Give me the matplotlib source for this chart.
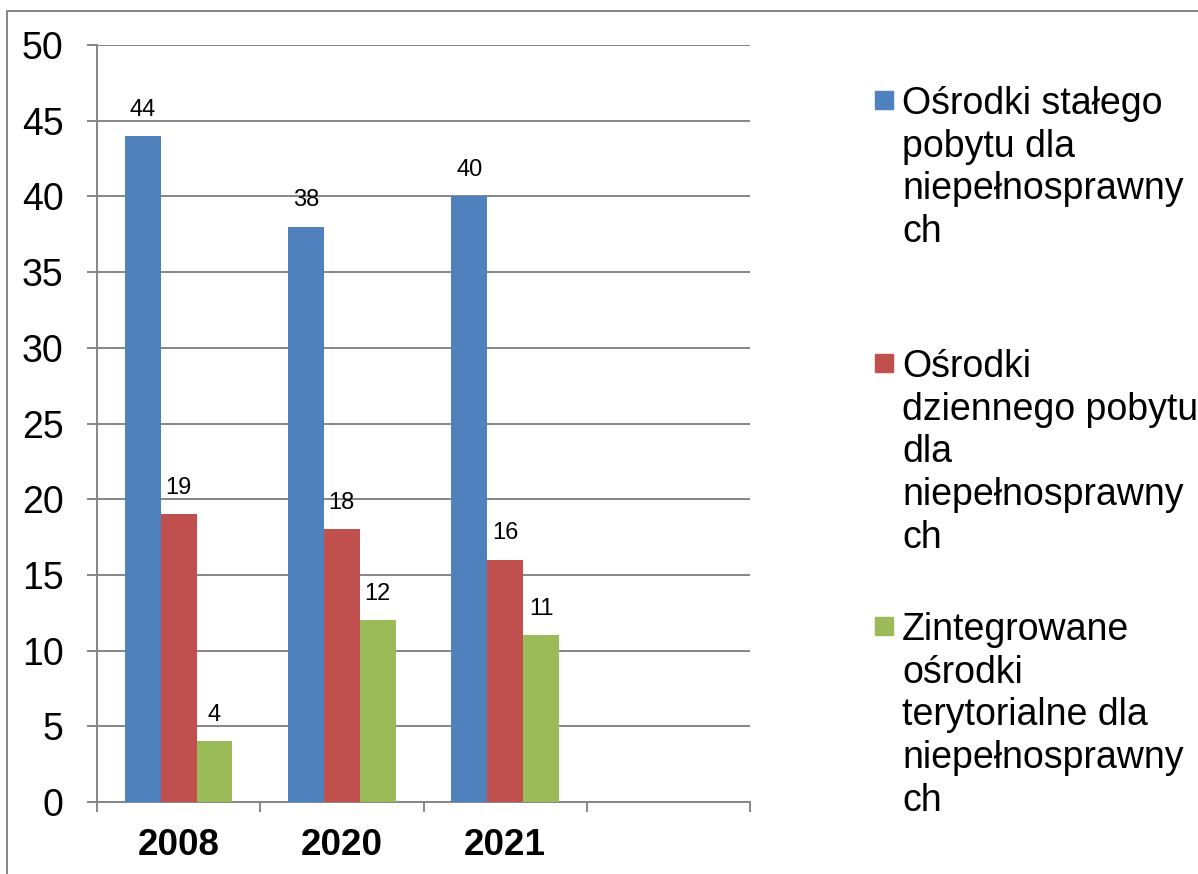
import matplotlib
matplotlib.use("Agg")
import matplotlib.pyplot as plt
import numpy as np
from matplotlib.patches import Rectangle

YEARS = ["2008", "2020", "2021", ""]
SERIES = [
    "Ośrodki stałego\npobytu dla\nniepełnosprawny\nch",
    "Ośrodki\ndziennego pobytu\ndla\nniepełnosprawny\nch",
    "Zintegrowane\nośrodki\nterytorialne dla\nniepełnosprawny\nch",
]
STALY = [44, 38, 40]
DZIENNY = [19, 18, 16]
ZINTEGROWANE = [4, 12, 11]

COLORS = ["#4F81BD", "#C0504D", "#9BBB59"]
GRID = "#868686"
FONT = "Liberation Sans"

plt.rcParams["font.family"] = FONT

W, H = 1198, 874
fig = plt.figure(figsize=(W / 100, H / 100), dpi=100)
ax = fig.add_axes([97 / W, 1 - 802 / H, (750 - 97) / W, (802 - 45) / H])

# outer chart frame
fig.patches.append(Rectangle((7 / W, -0.05), 1.2, 1 - 11 / H + 0.05,
                             transform=fig.transFigure, fill=False,
                             edgecolor=GRID, linewidth=1.4))

width = 0.22
x = np.arange(3)
for i, (vals, color) in enumerate(zip([STALY, DZIENNY, ZINTEGROWANE], COLORS)):
    bars = ax.bar(x + (i - 1) * width, vals, width, color=color, zorder=3)
    for b, v in zip(bars, vals):
        ax.annotate(str(v), (b.get_x() + b.get_width() / 2, v),
                    xytext=(0, 11), textcoords="offset points",
                    ha="center", va="bottom", fontsize=17)

ax.set_xlim(-0.5, 3.5)
ax.set_ylim(0, 50)
ax.set_yticks(np.arange(0, 51, 5))
ax.yaxis.grid(True, color=GRID, linewidth=1.4, zorder=0)
ax.tick_params(axis="y", length=7, width=1.4, color=GRID, pad=17, labelsize=27)

ax.set_xticks(np.arange(-0.5, 4, 1))
ax.set_xticklabels([])
ax.tick_params(axis="x", which="major", length=7, width=1.4, color=GRID)
ax.set_xticks(np.arange(4), minor=True)
ax.set_xticklabels(YEARS, minor=True, fontsize=26.5, fontweight="bold")
ax.tick_params(axis="x", which="minor", length=0, pad=19)

for side in ["top", "right"]:
    ax.spines[side].set_visible(False)
for side in ["left", "bottom"]:
    ax.spines[side].set_color(GRID)
    ax.spines[side].set_linewidth(1.4)

# legend drawn by hand so the markers sit on the first line
for i, (label, color) in enumerate(zip(SERIES, COLORS)):
    yc = 100 + 263 * i
    fig.patches.append(Rectangle((875 / W, 1 - (yc + 9) / H), 18 / W, 18 / H,
                                 transform=fig.transFigure, color=color))
    fig.text(902 / W, 1 - (yc - 14) / H, label, fontsize=27,
             va="top", ha="left", linespacing=1.24)

fig.savefig("out.png", dpi=100)
